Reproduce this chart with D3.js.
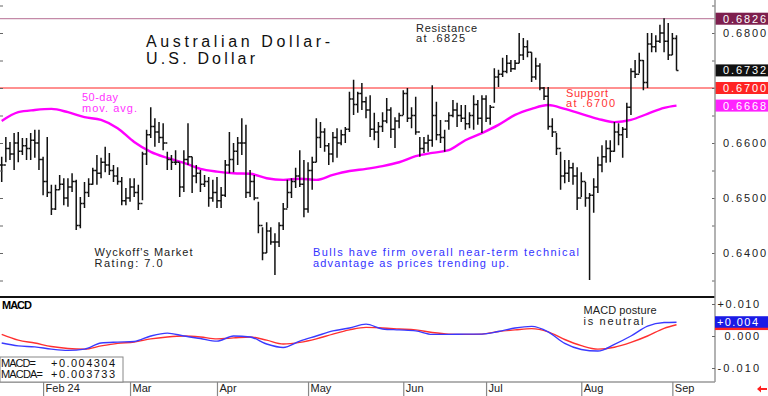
<!DOCTYPE html>
<html>
<head>
<meta charset="utf-8">
<script src="https://cdn.jsdelivr.net/npm/d3@7"></script>
<style>
  body { margin: 0; background: #fff; }
  text { font-family: "Liberation Sans", Arial, sans-serif; }
</style>
</head>
<body>
<div id="chart"></div>
<script>
// barres journalières AUD/USD (du 18 janv. au 3 sept. 2024, jours ouvrés)
var highs = [.6575,.6611,.6602,.6618,.6620,.6609,.6609,.6618,.6624,.6624,
  .6575,.6611,.6524,.6524,.6542,.6536,.6536,.6545,.6533,.6502,
  .6529,.6536,.6555,.6578,.6573,.6593,.6582,.6560,.6556,.6538,
  .6518,.6536,.6536,.6524,.6584,.6624,.6665,.6645,.6638,.6636,
  .6584,.6578,.6587,.6564,.6587,.6636,.6575,.6560,.6551,.6542,
  .6538,.6533,.6538,.6520,.6569,.6620,.6600,.6611,.6645,.6633,
  .6551,.6542,.6493,.6447,.6456,.6447,.6436,.6456,.6491,.6533,
  .6536,.6555,.6587,.6569,.6565,.6575,.6645,.6638,.6627,.6600,
  .6620,.6627,.6624,.6629,.6693,.6715,.6693,.6709,.6684,.6687,
  .6655,.6638,.6656,.6682,.6665,.6647,.6655,.6696,.6700,.6665,
  .6684,.6611,.6611,.6615,.6705,.6675,.6642,.6624,.6656,.6678,
  .6673,.6669,.6669,.6656,.6687,.6678,.6687,.6687,.6669,.6736,
  .6733,.6755,.6760,.6751,.6751,.6800,.6791,.6787,.6765,.6755,
  .6745,.6702,.6702,.6645,.6618,.6584,.6569,.6569,.6564,.6556,
  .6547,.6529,.6509,.6536,.6575,.6596,.6605,.6605,.6638,.6636,
  .6629,.6673,.6736,.6751,.6764,.6751,.6800,.6800,.6796,.6815,
  .6827,.6818,.6800,.6796]

var lows = [.6529,.6565,.6569,.6551,.6565,.6578,.6569,.6569,.6573,.6551,
  .6505,.6502,.6469,.6478,.6515,.6487,.6484,.6511,.6442,.6445,
  .6482,.6502,.6524,.6524,.6536,.6547,.6542,.6529,.6524,.6487,
  .6487,.6493,.6502,.6478,.6496,.6560,.6609,.6593,.6600,.6587,
  .6551,.6551,.6560,.6502,.6511,.6560,.6509,.6527,.6511,.6520,
  .6484,.6493,.6482,.6482,.6502,.6545,.6547,.6560,.6578,.6500,
  .6502,.6496,.6436,.6387,.6400,.6415,.6360,.6411,.6442,.6482,
  .6500,.6518,.6520,.6465,.6473,.6515,.6565,.6591,.6584,.6560,
  .6565,.6573,.6596,.6600,.6620,.6651,.6655,.6660,.6645,.6611,
  .6605,.6591,.6620,.6636,.6609,.6591,.6627,.6651,.6638,.6627,
  .6615,.6575,.6582,.6584,.6593,.6605,.6600,.6584,.6624,.6647,
  .6629,.6638,.6624,.6627,.6624,.6633,.6618,.6638,.6633,.6673,
  .6702,.6720,.6727,.6729,.6733,.6745,.6751,.6756,.6711,.6715,
  .6696,.6678,.6624,.6611,.6578,.6515,.6527,.6529,.6524,.6478,
  .6502,.6484,.6351,.6473,.6509,.6547,.6564,.6565,.6584,.6596,
  .6573,.6609,.6651,.6718,.6727,.6696,.6700,.6765,.6765,.6782,
  .6765,.6751,.6760,.6732]

var closes = [.6560,.6590,.6580,.6600,.6585,.6595,.6590,.6605,.6600,.6570,
  .6530,.6510,.6480,.6515,.6525,.6500,.6520,.6530,.6450,.6490,
  .6510,.6525,.6550,.6545,.6565,.6560,.6550,.6540,.6530,.6495,
  .6500,.6520,.6510,.6490,.6580,.6615,.6630,.6620,.6610,.6600,
  .6570,.6565,.6565,.6520,.6570,.6575,.6540,.6545,.6525,.6530,
  .6500,.6510,.6495,.6505,.6560,.6570,.6585,.6600,.6600,.6510,
  .6530,.6500,.6450,.6400,.6440,.6420,.6420,.6450,.6480,.6510,
  .6530,.6540,.6525,.6480,.6550,.6565,.6610,.6620,.6595,.6580,
  .6610,.6600,.6615,.6625,.6680,.6670,.6690,.6675,.6660,.6625,
  .6620,.6630,.6640,.6660,.6625,.6640,.6650,.6690,.6645,.6650,
  .6620,.6590,.6600,.6605,.6650,.6615,.6610,.6640,.6650,.6660,
  .6650,.6645,.6635,.6650,.6670,.6645,.6680,.6645,.6665,.6720,
  .6725,.6730,.6745,.6735,.6745,.6760,.6775,.6765,.6720,.6740,
  .6700,.6685,.6630,.6620,.6590,.6540,.6545,.6555,.6540,.6500,
  .6530,.6500,.6505,.6520,.6560,.6575,.6590,.6585,.6620,.6615,
  .6625,.6665,.6730,.6725,.6750,.6710,.6780,.6775,.6785,.6800,
  .6785,.6760,.6790,.6732]

// moyenne mobile 50 jours et MACD, relevées toutes les 4 séances
var sampleIdx = [0,4,8,12,16,20,24,28,32,36,40,44,48,52,56,60,64,68,72,76,
  80,84,88,92,96,100,104,108,112,116,120,124,128,132,136,140,144,148,152,156,160,163]
var ma50 = [.6640,.6656,.6660,.6662,.6656,.6647,.6642,.6627,.6602,.6584,
  .6573,.6564,.6553,.6548,.6545,.6544,.6536,.6533,.6535,.6533,
  .6542,.6549,.6553,.6558,.6565,.6576,.6582,.6587,.6605,.6618,
  .6633,.6651,.6662,.6669,.6662,.6653,.6644,.6638,.6642,.6653,.6664,.6668]
var macd = [-.0022,-.0031,-.0034,-.0041,-.0045,-.0041,-.0022,-.0019,-.0017,.0000,
  .0009,.0000,-.0008,-.0016,.0000,-.0003,-.0025,-.0036,-.0016,.0000,
  .0016,.0025,.0037,.0022,.0019,.0016,.0005,.0005,.0006,.0006,
  .0014,.0025,.0030,.0013,-.0023,-.0042,-.0047,-.0026,.0000,.0031,.0042,.0043]
var macdAvg = [.0005,-.0013,-.0022,-.0033,-.0039,-.0041,-.0031,-.0023,-.0019,-.0009,
  -.0003,.0000,-.0003,-.0009,-.0006,-.0003,-.0013,-.0025,-.0020,-.0009,
  .0006,.0019,.0027,.0025,.0022,.0019,.0011,.0006,.0005,.0006,
  .0014,.0019,.0023,.0013,-.0011,-.0030,-.0041,-.0035,-.0020,.0000,.0024,.0035]

var monthLabels = ["Feb 24", "Mar", "Apr", "May", "Jun", "Jul", "Aug", "Sep"]
var priceTicks = [0.6400, 0.6500, 0.6600, 0.6800]
var macdTicks = [0.010, 0.000, -0.010]

var resistance = 0.6826
var support = 0.6700
var maLast = 0.6668
var macdNow = 0.004304
var macdAvgNow = 0.003733

// dimensions
var width = 768
var height = 396

var svg = d3.select("#chart")
  .append("svg")
    .attr("width", width)
    .attr("height", height)

// jours ouvrés -> positions des mois
var dates = d3.utcDays(new Date(Date.UTC(2024, 0, 18)), new Date(Date.UTC(2024, 8, 4)))
  .filter(function(d){ return d.getUTCDay() % 6 !== 0 })
var monthIdx = []
dates.forEach(function(d, i){
  if (i > 0 && d.getUTCMonth() !== dates[i-1].getUTCMonth()) monthIdx.push(i)
})

// échelles
var x = d3.scaleLinear().domain([0, highs.length - 1]).range([1.7, 676.5])
var y = d3.scaleLinear().domain([0.6320, 0.6860]).range([297, 0])
var yM = d3.scaleLinear().domain([-0.014375, 0.0121875]).range([382, 297])

function addText(x0, y0, str, size, color, len, weight) {
  var t = svg.append("text")
    .attr("x", x0)
    .attr("y", y0)
    .text(str)
    .style("font-size", size + "px")
    .style("fill", color)
  if (len) t.attr("textLength", len).attr("lengthAdjust", "spacing")
  if (weight) t.style("font-weight", weight)
  return t
}

// lignes de résistance et support
svg.append("line")
  .attr("x1", 0).attr("x2", 715)
  .attr("y1", y(resistance)).attr("y2", y(resistance))
  .attr("stroke", "#c48aa8").attr("stroke-width", 1.3)
svg.append("line")
  .attr("x1", 0).attr("x2", 715)
  .attr("y1", y(support)).attr("y2", y(support))
  .attr("stroke", "#ff6b6b").attr("stroke-width", 1.3)

// moyenne mobile
svg.append("path")
  .datum(ma50)
  .attr("fill", "none")
  .attr("stroke", "#ff00ff")
  .attr("stroke-width", 2.4)
  .attr("d", d3.line()
    .x(function(d, i){ return x(sampleIdx[i]) })
    .y(function(d){ return y(d) })
    .curve(d3.curveMonotoneX))

// barres OHLC (ouverture = clôture précédente)
svg.append("g")
  .selectAll("path")
  .data(highs)
  .join("path")
    .attr("fill", "none")
    .attr("stroke", "#111")
    .attr("stroke-width", 1.5)
    .attr("d", function(h, i){
      var bx = x(i)
      var op = i > 0 ? closes[i-1] : closes[i]
      return "M" + bx + "," + y(h) + "V" + y(lows[i]) +
        "M" + (bx - 2) + "," + y(op) + "H" + bx +
        "M" + bx + "," + y(closes[i]) + "H" + (bx + 2)
    })

// axe des prix, petites graduations à gauche et à droite
var minorTicks = d3.range(0.6350, 0.6851, 0.0050)
svg.append("g")
  .call(d3.axisRight(y).tickValues(minorTicks).tickSize(3).tickFormat(""))
  .call(function(g){ g.select(".domain").remove() })
  .selectAll("line").attr("stroke", "#666")
svg.append("g")
  .attr("transform", "translate(715,0)")
  .call(d3.axisLeft(y).tickValues(minorTicks).tickSize(3).tickFormat(""))
  .call(function(g){ g.select(".domain").remove() })
  .selectAll("line").attr("stroke", "#666")

var pAxis = svg.append("g")
  .attr("transform", "translate(715,0)")
  .call(d3.axisRight(y).tickValues(priceTicks).tickSize(0).tickPadding(8).tickFormat(d3.format(".4f")))
pAxis.select(".domain").remove()
pAxis.selectAll("text")
  .attr("textLength", 43)
  .attr("lengthAdjust", "spacing")
  .style("font-family", "Liberation Sans, Arial, sans-serif")
  .style("font-size", "11px")
  .style("fill", "#222")

// étiquettes colorées à droite
var priceBoxes = [
  {v: resistance, fill: "#7e1f4e"},
  {v: closes[closes.length - 1], fill: "#111111"},
  {v: support, fill: "#ff2424"},
  {v: maLast, fill: "#ff22ff"}
]
priceBoxes.forEach(function(b){
  svg.append("rect")
    .attr("x", 715).attr("y", y(b.v) - 6)
    .attr("width", 53).attr("height", 12)
    .attr("fill", b.fill)
  addText(723, y(b.v) + 4, d3.format(".4f")(b.v), 11, "#fff", 43)
})

// cadres
svg.append("line")
  .attr("x1", 0).attr("x2", 715).attr("y1", 297).attr("y2", 297)
  .attr("stroke", "#111").attr("stroke-width", 2)
svg.append("line")
  .attr("x1", 0).attr("x2", 715).attr("y1", 382).attr("y2", 382)
  .attr("stroke", "#999").attr("stroke-width", 1.5)
svg.append("line")
  .attr("x1", 715).attr("x2", 715).attr("y1", 0).attr("y2", 382)
  .attr("stroke", "#999").attr("stroke-width", 1.5)

// textes du panneau principal
addText(146, 47, "Australian Dollar-", 16, "#111", 184)
addText(146, 64, "U.S. Dollar", 16, "#111", 109)
addText(416, 31.5, "Resistance", 11, "#222", 61)
addText(416, 42, "at .6825", 11, "#222", 49)
addText(82, 101, "50-day", 11, "#ff33ff", 36)
addText(82, 111.5, "mov. avg.", 11, "#ff33ff", 55)
addText(566, 96.5, "Support", 11, "#ff3333", 42)
addText(566, 107, "at .6700", 11, "#ff3333", 49)
addText(94.5, 256, "Wyckoff's Market", 11, "#222", 98)
addText(94.5, 266.5, "Rating: 7.0", 11, "#222", 68)
addText(313, 256, "Bulls have firm overall near-term technical", 11, "#3333ff", 266)
addText(313, 266.5, "advantage as prices trending up.", 11, "#3333ff", 196)

// panneau MACD
var mLine = d3.line()
  .x(function(d, i){ return x(sampleIdx[i]) })
  .y(function(d){ return yM(d) })
  .curve(d3.curveMonotoneX)
svg.append("path")
  .datum(macdAvg)
  .attr("fill", "none").attr("stroke", "#ff3030").attr("stroke-width", 1.4)
  .attr("d", mLine)
svg.append("path")
  .datum(macd)
  .attr("fill", "none").attr("stroke", "#3a3aff").attr("stroke-width", 1.4)
  .attr("d", mLine)

addText(2, 309, "MACD", 11, "#000", 30, "bold")
addText(583.5, 313.5, "MACD posture", 11, "#222", 73)
addText(583.5, 324.5, "is neutral", 11, "#222", 60)

svg.append("rect")
  .attr("x", 0).attr("y", 357).attr("width", 123).attr("height", 25)
  .attr("fill", "#fff").attr("stroke", "#888").attr("stroke-width", 1)
addText(1, 366.5, "MACD=", 11, "#111", 35)
addText(51, 366.5, d3.format("+.6f")(macdNow), 11, "#111", 64)
addText(1, 377.5, "MACDA=", 11, "#111", 42)
addText(51, 377.5, d3.format("+.6f")(macdAvgNow), 11, "#111", 64)

// axe MACD
svg.append("g")
  .attr("transform", "translate(715,0)")
  .call(d3.axisLeft(yM).tickValues(macdTicks).tickSize(3).tickFormat(""))
  .call(function(g){ g.select(".domain").remove() })
  .selectAll("line").attr("stroke", "#666")
macdTicks.forEach(function(v){
  var s = (v > 0 ? "+" : v < 0 ? "-" : "") + d3.format(".3f")(Math.abs(v))
  addText(759, yM(v) + 4, s, 11, "#222", s.length * 6.9).attr("text-anchor", "end")
})

svg.append("rect")
  .attr("x", 715).attr("y", yM(macdAvgNow) - 6).attr("width", 53).attr("height", 12)
  .attr("fill", "#ff2424")
svg.append("rect")
  .attr("x", 715).attr("y", yM(macdNow) - 6).attr("width", 53).attr("height", 11.5)
  .attr("fill", "#1a1ae6")
addText(717, yM(macdNow) + 4, d3.format("+.3f")(macdNow), 11, "#fff", 41)

// axe des mois
var xAxis = svg.append("g")
  .attr("transform", "translate(0,382)")
  .call(d3.axisBottom(x).tickValues(monthIdx).tickSize(14)
    .tickFormat(function(d, i){ return monthLabels[i] }))
xAxis.select(".domain").remove()
xAxis.selectAll("line").attr("stroke", "#888").attr("stroke-width", 1.2)
xAxis.selectAll("text")
  .attr("x", 2).attr("y", 10).attr("dy", 0)
  .style("text-anchor", "start")
  .style("font-family", "Liberation Sans, Arial, sans-serif")
  .style("font-size", "11px")
  .style("fill", "#222")

// petite flèche rouge en bas à droite
svg.append("path")
  .attr("d", "M757,389L761,385.5V388H767V390H761V392.5Z")
  .attr("fill", "#ff2020")
</script>
</body>
</html>
